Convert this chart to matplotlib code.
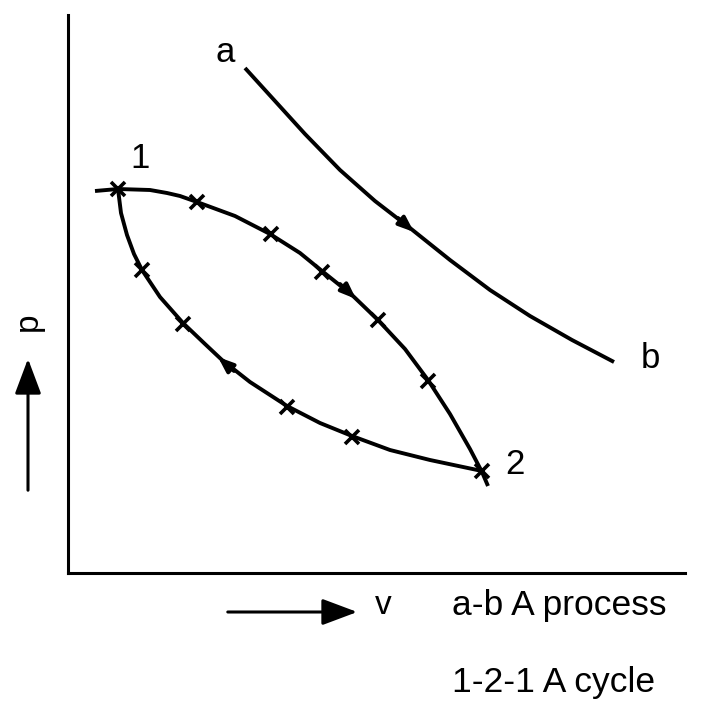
import matplotlib
matplotlib.use("Agg")
import matplotlib.pyplot as plt

W, H = 704, 702

# process a-b
ab_v = [1.77, 2.07, 2.37, 2.72, 3.07, 3.42, 3.82, 4.22, 4.62, 5.04, 5.46]
ab_p = [5.05, 4.72, 4.39, 4.03, 3.72, 3.45, 3.13, 2.83, 2.57, 2.33, 2.11]

# cycle 1-2 (upper branch) and 2-1 (lower branch)
up_v = [0.27, 0.50, 0.82, 0.99, 1.12, 1.29, 1.67, 2.02, 2.32, 2.54, 2.84, 3.10, 3.37, 3.60, 3.82, 4.02, 4.14, 4.20]
up_p = [3.82, 3.84, 3.83, 3.80, 3.77, 3.71, 3.57, 3.39, 3.20, 3.02, 2.78, 2.53, 2.24, 1.93, 1.59, 1.24, 1.01, 0.87]
lo_v = [0.50, 0.53, 0.59, 0.66, 0.74, 0.92, 1.15, 1.37, 1.54, 1.82, 2.19, 2.52, 2.84, 3.22, 3.62, 4.14]
lo_p = [3.84, 3.60, 3.38, 3.19, 3.03, 2.76, 2.50, 2.29, 2.13, 1.91, 1.67, 1.50, 1.37, 1.23, 1.13, 1.02]

# state points marked with crosses
mk_v = [0.50, 1.29, 2.03, 2.54, 3.10, 3.60, 4.14, 0.74, 1.15, 2.19, 2.84]
mk_p = [3.84, 3.71, 3.39, 3.01, 2.53, 1.92, 1.02, 3.03, 2.49, 1.66, 1.36]

# direction arrows: (tail, head)
arrows = [((3.30, 3.55), (3.46, 3.41)),
          ((2.72, 2.89), (2.88, 2.74)),
          ((1.66, 2.02), (1.50, 2.16))]

labels = {"a": (1.57, 5.21), "b": (5.82, 2.14), "1": (0.72, 4.14), "2": (4.47, 1.08)}

fig = plt.figure(figsize=(W / 100, H / 100), dpi=100)
ax = fig.add_axes([68 / W, 129 / H, 617 / W, 558 / H])
ax.set_xlim(0, 6.17)
ax.set_ylim(0, 5.58)
for s in ["top", "right"]:
    ax.spines[s].set_visible(False)
for s in ["left", "bottom"]:
    ax.spines[s].set_linewidth(2.2)
ax.set_xticks([])
ax.set_yticks([])

ax.plot(ab_v, ab_p, color="black", lw=2.8, solid_capstyle="butt")
ax.plot(up_v, up_p, color="black", lw=2.8, solid_capstyle="butt")
ax.plot(lo_v, lo_p, color="black", lw=2.8, solid_capstyle="butt")
ax.plot(mk_v, mk_p, ls="none", marker="x", ms=10, mew=2.6, color="black")

for tail, head in arrows:
    ax.annotate("", xy=head, xytext=tail,
                arrowprops=dict(arrowstyle="-|>,head_length=0.9,head_width=0.35",
                                color="black", lw=2.8, shrinkA=0, shrinkB=0))

font = ["Liberation Sans", "DejaVu Sans"]
for txt, (x, y) in labels.items():
    ax.text(x, y, txt, fontsize=25, family=font, ha="center", va="center")

# axis direction arrows and names outside the frame
fig.patches.append(matplotlib.patches.FancyArrowPatch(
    (28 / W, 1 - 493 / H), (28 / W, 1 - 356 / H), transform=fig.transFigure,
    arrowstyle="-|>,head_length=12,head_width=4.5", mutation_scale=1.8,
    color="black", lw=2.2))
fig.patches.append(matplotlib.patches.FancyArrowPatch(
    (225 / W, 1 - 612 / H), (360 / W, 1 - 612 / H), transform=fig.transFigure,
    arrowstyle="-|>,head_length=12,head_width=4.5", mutation_scale=1.8,
    color="black", lw=2.2))
fig.text(28 / W, 1 - 322 / H, "p", fontsize=24, family=font, rotation=90,
         ha="center", va="center")
fig.text(383 / W, 1 - 606 / H, "v", fontsize=24, family=font, ha="center", va="center")
fig.text(452 / W, 1 - 615 / H, "a-b A process", fontsize=25.5, family=font,
         ha="left", va="baseline")
fig.text(452 / W, 1 - 692 / H, "1-2-1 A cycle", fontsize=25.5, family=font,
         ha="left", va="baseline")

fig.savefig("out.png", dpi=100, facecolor="white")
